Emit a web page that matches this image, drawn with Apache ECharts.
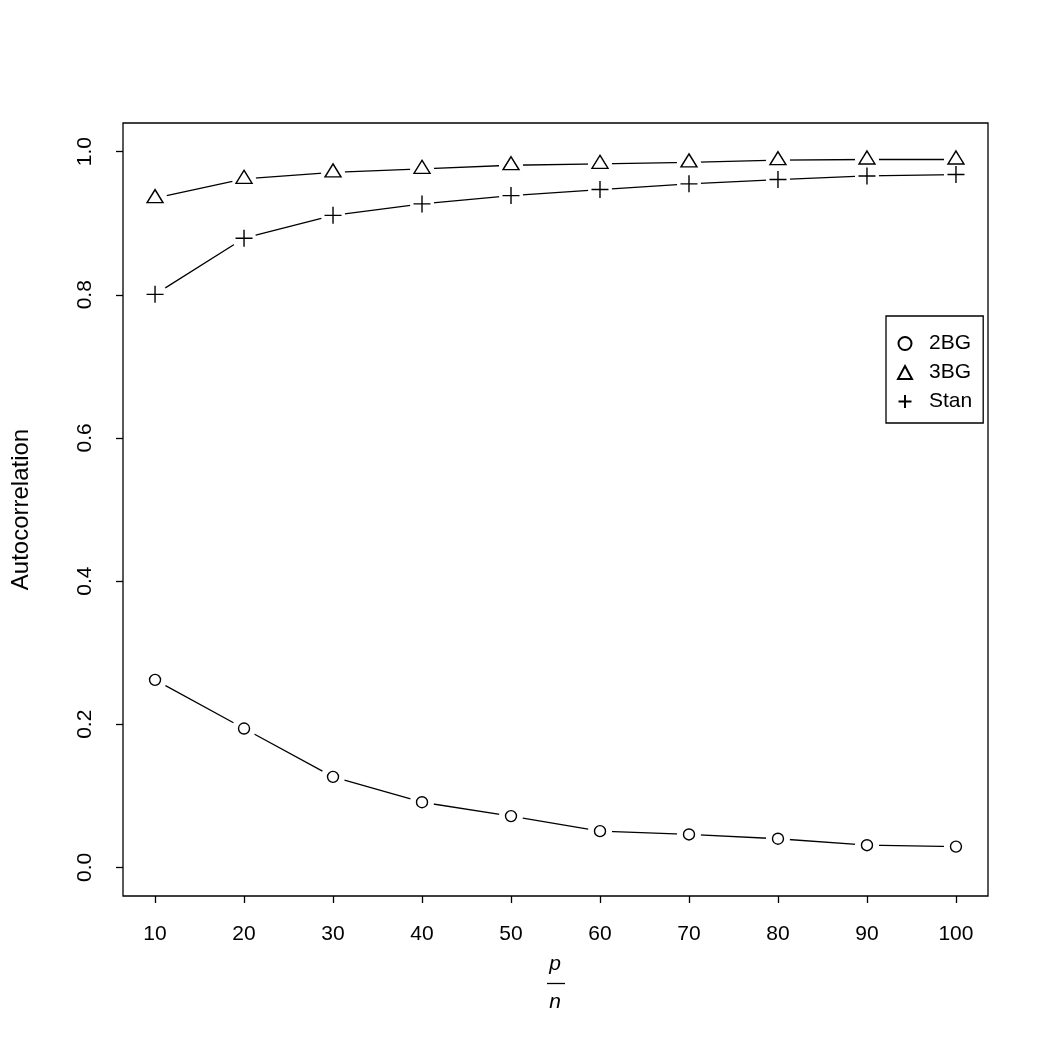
<!DOCTYPE html>
<html>
<head>
<meta charset="utf-8">
<script src="https://cdn.jsdelivr.net/npm/echarts@6/dist/echarts.min.js"></script>
<style>html,body{margin:0;padding:0;background:#fff}#c{width:1050px;height:1050px}</style>
</head>
<body>
<div id="c"></div>
<script>
const xValues = [10, 20, 30, 40, 50, 60, 70, 80, 90, 100];
const bg2 = [0.262, 0.194, 0.1265, 0.091, 0.0716, 0.0506, 0.046, 0.040, 0.031, 0.029];
const bg3 = [0.935, 0.962, 0.971, 0.976, 0.981, 0.983, 0.985, 0.988, 0.989, 0.989];
const stan = [0.8006, 0.879, 0.911, 0.927, 0.9386, 0.947, 0.955, 0.961, 0.966, 0.968];
const xTicks = [10, 20, 30, 40, 50, 60, 70, 80, 90, 100];
const yTicks = [0, 0.2, 0.4, 0.6, 0.8, 1.0];
const seriesNames = ['2BG', '3BG', 'Stan'];
const yTitle = 'Autocorrelation';

const FONT = '"Liberation Sans", Arial, Helvetica, sans-serif';
const pairs = arr => xValues.map((x, i) => [x, arr[i]]);
const allData = [bg2, bg3, stan];
const plusPath = 'path://M0,8L16,8M8,0L8,16';
const symbols = [
  { symbol: 'circle', size: 11, offset: [0, 0], fill: '#fff' },
  { symbol: 'triangle', size: [16, 13], offset: [0, -2], fill: '#fff' },
  { symbol: plusPath, size: 17, offset: [0, 0], fill: 'none' }
];

const series = [];
allData.forEach((d, i) => {
  series.push({
    name: 'line' + i, type: 'line', data: pairs(d), showSymbol: false, symbol: 'none',
    lineStyle: { color: '#000', width: 1.3 }, zlevel: 0, z: 10, silent: true, animation: false
  });
});
allData.forEach((d, i) => {
  series.push({
    name: 'mask' + i, type: 'scatter', data: pairs(d), symbol: 'circle', symbolSize: 24,
    itemStyle: { color: '#fff', borderWidth: 0, opacity: 1 }, zlevel: 1, z: 20, silent: true, animation: false
  });
});
allData.forEach((d, i) => {
  const s = symbols[i];
  series.push({
    name: seriesNames[i], type: 'scatter', data: pairs(d), symbol: s.symbol,
    symbolSize: s.size, symbolOffset: s.offset,
    itemStyle: { color: s.fill, borderColor: '#000', borderWidth: 1.4, opacity: 1 },
    zlevel: 2, z: 30, animation: false
  });
});

const chart = echarts.init(document.getElementById('c'), null, { renderer: 'canvas' });
chart.setOption({
  backgroundColor: '#fff',
  animation: false,
  grid: { left: 123, top: 123, right: 62, bottom: 154, show: true, borderColor: '#000', borderWidth: 1.3, backgroundColor: 'transparent' },
  xAxis: {
    type: 'value', min: 6.4, max: 103.6,
    axisLine: { show: false, onZero: false },
    splitLine: { show: false },
    axisTick: { show: true, length: 7, lineStyle: { color: '#000', width: 1.3 }, customValues: xTicks },
    axisLabel: { customValues: xTicks, margin: 28, color: '#000', fontSize: 21, fontFamily: FONT }
  },
  yAxis: {
    type: 'value', min: -0.04, max: 1.04,
    name: yTitle, nameLocation: 'middle', nameGap: 90, nameRotate: 90,
    nameTextStyle: { color: '#000', fontSize: 24, fontFamily: FONT },
    axisLine: { show: false, onZero: false },
    splitLine: { show: false },
    axisTick: { show: true, length: 7, lineStyle: { color: '#000', width: 1.3 }, customValues: yTicks },
    axisLabel: { customValues: yTicks, rotate: 90, margin: 27, color: '#000', fontSize: 21, fontFamily: FONT,
      formatter: v => v.toFixed(1) }
  },
  legend: {
    data: seriesNames, orient: 'vertical', left: 886, top: 316,
    padding: [17, 11, 11, 10], itemGap: 8, itemWidth: 14, itemHeight: 13,
    borderColor: '#000', borderWidth: 1.3, backgroundColor: '#fff',
    textStyle: { color: '#000', fontSize: 21, fontFamily: FONT, padding: [0, 0, 0, 12] },
    selectedMode: false
  },
  graphic: [
    { type: 'text', style: { text: 'p', font: 'italic 21px ' + FONT, fill: '#000', textAlign: 'center', textVerticalAlign: 'middle', x: 555, y: 964 } },
    { type: 'line', shape: { x1: 547, y1: 983.5, x2: 565, y2: 983.5 }, style: { stroke: '#000', lineWidth: 1.3 } },
    { type: 'text', style: { text: 'n', font: 'italic 21px ' + FONT, fill: '#000', textAlign: 'center', textVerticalAlign: 'middle', x: 555, y: 1002 } }
  ],
  series: series
});
</script>
</body>
</html>
